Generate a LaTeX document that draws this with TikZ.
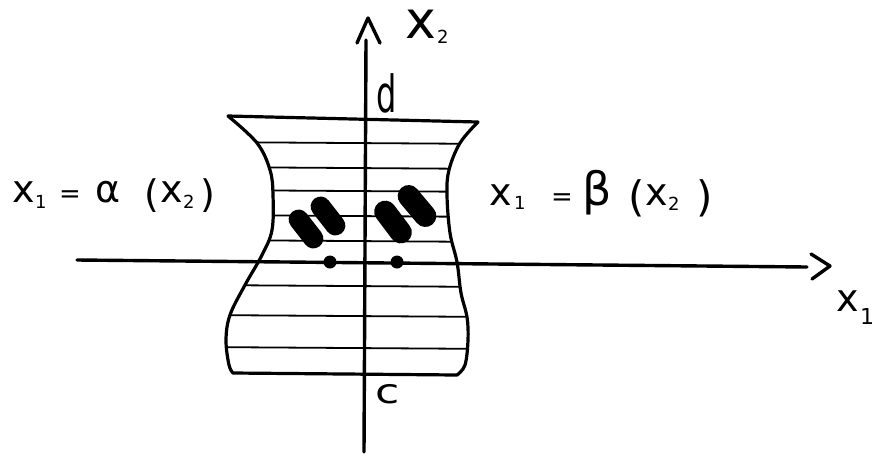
\documentclass[tikz,border=0pt]{standalone}
\usepackage{fontspec}
\setmainfont{DejaVu Sans}
\usetikzlibrary{shapes.misc}
\newcommand{\gl}[4]{\makebox[#1pt][l]{\raisebox{#2pt}{\fontsize{#3}{#3}\selectfont #4}}}
\def\myregion{(228,116) -- (478,122) -- plot[smooth, tension=0.6] coordinates {(478,122) (460,143) (449,170) (447,195) (450,233) (457,262) (461,293) (467,317) (468,340) (465,365) (457,375)} -- (233,373) -- plot[smooth, tension=0.6] coordinates {(233,373) (229,365) (226,340) (230,315) (245,285) (262,255) (272,230) (273,195) (270,170) (257,143) (228,116)} -- cycle}
\tikzset{
  axis/.style={line width=3.4pt, line cap=round},
  tipline/.style={line width=3.4pt, line cap=round, line join=round},
  boundary/.style={line width=3.2pt, line join=round},
  hatch/.style={line width=1.8pt},
  blob/.style={rounded rectangle, fill=black, inner sep=0pt, minimum width=44pt, minimum height=20pt},
  bigblob/.style={blob, minimum width=48pt, minimum height=22pt},
  dot/.style={circle, fill=black, inner sep=0pt, minimum size=13pt},
  lab/.style={inner sep=0pt, anchor=base west}
}
\begin{document}
\begin{tikzpicture}[x=1pt, y=-1pt]
\useasboundingbox (0,0) rectangle (878,459);
% axes
\coordinate (x1s) at (77,260);
\coordinate (x1e) at (807,267);
\coordinate (x2s) at (364,452);
\coordinate (x2e) at (366,40);
\draw[axis] (x1s) -- (x1e);
\draw[axis] (x2s) -- (x2e);
\coordinate (t1a) at (811,254);
\coordinate (t1p) at (830,266);
\coordinate (t1b) at (812,279);
\draw[tipline] (t1a) -- (t1p) -- (t1b);
\coordinate (t2a) at (357,43);
\coordinate (t2p) at (368,18);
\coordinate (t2b) at (380,43);
\draw[tipline] (t2a) -- (t2p) -- (t2b);
% hatching
\begin{scope}
\clip \myregion;
\foreach \yy in {142,167,190,215,240,285,315,347}
  \draw[hatch] (200,\yy) -- (500,\yy+2);
\end{scope}
% region boundary
\draw[boundary] \myregion;
% blobs
\node[blob, rotate=-52] (bA) at (306,229) {};
\node[blob, rotate=-52] (bB) at (328,216) {};
\node[bigblob, rotate=-53] (bC) at (393,222) {};
\node[bigblob, rotate=-50] (bD) at (417,206) {};
% dots
\node[dot] (p1) at (330,262) {};
\node[dot] (p2) at (397,262) {};
% labels
\node[lab] (lx2) at (405,38) {\gl{32}{0}{52}{x}\gl{14}{-5}{18}{2}};
\node[lab] (ld) at (376,112) {\scalebox{1}[1.6]{\fontsize{32}{32}\selectfont d}};
\node[lab] (lc) at (375,403) {\scalebox{1.3}[1]{\fontsize{34}{34}\selectfont c}};
\node[lab] (lx1) at (836,311) {\gl{24}{0}{38}{x}\gl{14}{-13}{22}{1}};
\node[lab] (alpha) at (12,202) {\gl{23}{0}{38}{x}\gl{24}{-6}{18}{1}\gl{36}{0}{26}{=}\gl{49}{0}{38}{α}\gl{16}{-5}{38}{(}\gl{23}{0}{38}{x}\gl{17}{-6}{18}{2}\gl{15}{-5}{38}{)}};
\node[lab] (beta) at (489,205) {\gl{25}{0}{38}{x}\gl{37}{-4}{18}{1}\gl{31}{0}{26}{=}\gl{46}{0}{46}{β}\gl{17}{-6}{42}{(}\gl{23}{0}{38}{x}\gl{28}{-5}{18}{2}\gl{17}{-6}{42}{)}};
\end{tikzpicture}
\end{document}
